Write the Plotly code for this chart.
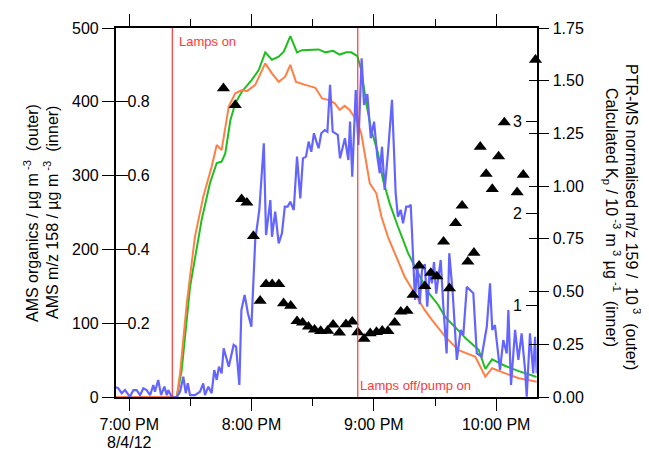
import pandas as pd
import plotly.graph_objects as go

BASE = pd.Timestamp("2012-08-04 19:00:00")

# minutes after 7:00 PM, 4 Aug 2012
organics_min = [-6.7, 23.3, 25.7, 29.8, 35.5, 39.6, 42.9, 45.3, 47.1, 49.6, 52.0, 55.3, 60.2, 63.5,
                66.7, 70.0, 73.3, 75.8, 79.0, 82.3, 84.7, 89.6, 92.9, 96.2, 100.0, 103.2, 106.5,
                108.9, 111.9, 113.8, 116.3, 118.7, 122.0, 124.5, 127.8, 131.8, 136.8, 141.7, 146.6,
                151.5, 155.1, 160.5, 164.9, 171.4, 174.7, 178.0, 184.5, 191.1, 200.0]
organics_val = [0, 0, 36, 149, 240, 290, 317, 319, 330, 375, 398, 414, 430, 443,
                467, 457, 461, 468, 489, 467, 470, 470, 471, 467, 469, 464, 467,
                467, 462, 443, 398, 362, 331, 294, 262, 231, 195, 168, 142,
                125, 108, 93, 80, 64, 38, 51, 42, 35, 27]

mz158_min = [-6.7, 23.3, 24.9, 28.2, 32.2, 36.3, 40.4, 42.9, 45.3, 47.1, 48.8, 52.0, 55.3, 57.8,
             61.8, 66.7, 70.0, 73.3, 76.5, 79.0, 81.8, 86.4, 91.3, 94.6, 98.5, 100.8, 103.2,
             105.7, 108.1, 111.4, 113.8, 115.5, 118.0, 121.2, 123.7, 126.9, 130.2, 135.1, 140.0,
             144.9, 148.5, 155.1, 161.6, 169.8, 174.7, 178.0, 184.5, 191.1, 200.0]
mz158_val = [0, 0, 0.064, 0.254, 0.434, 0.543, 0.624, 0.683, 0.669, 0.724, 0.787, 0.823, 0.832, 0.829,
             0.846, 0.904, 0.877, 0.854, 0.868, 0.900, 0.854, 0.846, 0.838, 0.809, 0.804, 0.796, 0.778,
             0.789, 0.778, 0.751, 0.715, 0.660, 0.579, 0.552, 0.489, 0.434, 0.389, 0.326, 0.281,
             0.236, 0.209, 0.163, 0.127, 0.109, 0.055, 0.078, 0.064, 0.051, 0.041]

ptr159_min = [-7.0, -5.4, -3.7, -2.1, 0.3, 2.0, 3.6, 5.3, 6.9, 8.5, 10.2, 11.8, 12.6, 14.2, 15.6,
              17.2, 18.4, 19.1, 20.8, 23.3, 24.9, 26.5, 27.7, 28.7, 29.8, 32.2, 34.7, 36.3, 37.1,
              38.8, 40.4, 41.7, 42.9, 44.0, 45.3, 46.3, 48.8, 51.2, 52.4, 54.0, 55.0, 56.6, 58.2,
              59.9, 61.8, 63.8, 66.0, 67.1, 69.2, 70.0, 71.6, 73.3, 74.9, 76.3, 77.7, 79.0, 80.7,
              82.3, 83.9, 85.2, 86.7, 88.0, 89.3, 90.6, 91.8, 92.9, 94.2, 95.9, 97.2, 98.5, 99.8,
              102.3, 103.4, 105.8, 107.5, 108.3, 109.4, 111.1, 112.4, 114.0, 115.2, 116.8, 118.5,
              120.1, 121.7, 122.9, 124.0, 125.3, 126.9, 128.9, 130.7, 131.8, 133.2, 134.3, 135.9,
              137.1, 138.1, 139.2, 140.2, 141.3, 142.5, 143.6, 145.0, 146.2, 147.4, 148.5, 149.5,
              150.6, 152.8, 154.1, 155.7, 157.0, 158.7, 160.7, 162.6, 163.9, 165.6, 168.8, 170.5,
              172.9, 175.4, 177.0, 178.1, 179.4, 181.9, 183.5, 185.2, 186.0, 187.3, 189.3, 190.9,
              192.5, 194.2, 195.0, 196.6, 198.2, 199.1, 199.9]
ptr159_val = [0.049, 0.041, 0.018, 0.033, 0.001, 0.033, 0.033, 0.009, 0.041, 0.033, 0.009, 0.057, 0.025, 0.081, 0.009,
              0.049, 0.009, 0.033, 0.0, 0.0, 0.025, 0.096, 0.018, 0.065, 0.009, 0.009, 0.025, 0.065, 0.009,
              0.049, 0.018, 0.128, 0.081, 0.144, 0.112, 0.231, 0.144, 0.247, 0.239, 0.057, 0.413, 0.484, 0.397,
              0.333, 0.745, 0.887, 1.203, 0.768, 0.934, 0.760, 0.879, 0.729, 0.776, 0.903, 0.903, 0.926, 0.887,
              1.140, 0.942, 1.132, 1.140, 1.211, 1.163, 1.251, 1.211, 1.180, 1.251, 1.266, 1.258, 1.480, 1.258,
              1.243, 1.132, 1.227, 1.124, 1.306, 1.045, 1.456, 1.195, 1.606, 1.385, 1.437, 1.227,
              1.306, 1.140, 1.061, 1.187, 0.982, 1.156, 1.409, 0.966, 0.855, 0.887, 0.824, 0.903,
              0.903, 0.911, 0.650, 0.460, 0.634, 0.440, 0.600, 0.630, 0.428, 0.600, 0.539, 0.640,
              0.490, 0.650, 0.428, 0.207, 0.682, 0.492, 0.176, 0.318, 0.294, 0.523, 0.492, 0.207,
              0.191, 0.333, 0.539, 0.318, 0.341, 0.128, 0.270, 0.207, 0.413, 0.057, 0.318, 0.176,
              0.302, 0.128, 0.001, 0.302, 0.112, 0.286, 0.112]

kp_min = [46.2, 52.0, 55.1, 57.7, 60.9, 64.2, 67.1, 70.1, 73.4, 75.7, 79.2, 82.3, 85.0, 87.9,
          90.9, 93.9, 97.3, 100.0, 103.1, 106.3, 109.4, 112.1, 115.2, 118.2, 121.3, 124.1,
          126.9, 130.2, 133.2, 136.3, 139.2, 142.2, 145.0, 147.9, 150.9, 154.2, 157.1, 160.1,
          163.3, 166.1, 169.1, 172.2, 175.1, 178.1, 181.2, 184.0, 190.3, 193.3, 199.3]
kp_val = [3.355, 3.174, 2.150, 2.112, 1.750, 1.045, 1.226, 1.226, 1.226, 1.018, 0.991, 0.824, 0.808, 0.764,
          0.732, 0.717, 0.719, 0.786, 0.699, 0.790, 0.819, 0.703, 0.632, 0.692, 0.706, 0.719,
          0.717, 0.808, 0.927, 0.935, 1.109, 1.427, 1.205, 1.348, 1.310, 1.688, 1.181, 1.890,
          2.080, 1.471, 1.568, 2.720, 2.425, 2.260, 2.615, 2.985, 2.225, 2.415, 3.665]

event_min = [21.1, 112.1]
event_labels = ["Lamps on", "Lamps off/pump on"]

x_range_min = [-6.67, 199.9]
x_tick_min = [0, 60, 120, 180]
x_tick_text = ["7:00 PM", "8:00 PM", "9:00 PM", "10:00 PM"]
x_date_label = "8/4/12"
x_minor_min = [30, 90, 150]


def to_time(mins):
    return BASE + pd.to_timedelta(mins, unit="min")


# page has an 8px body margin; figure is sized to fill the rest of the window
OFF = 8
W, H = 649 - OFF, 450 - OFF


def px(x):
    return (x - OFF) / W


def py(y):
    return 1 - (y - OFF) / H


FONT = "Liberation Sans, Arial, Helvetica, sans-serif"
RED = "#FF3838"

fig = go.Figure()
fig.add_trace(go.Scatter(x=to_time(organics_min), y=organics_val, mode="lines",
                         line=dict(color="#1EBE1E", width=2), yaxis="y", name="AMS organics"))
fig.add_trace(go.Scatter(x=to_time(mz158_min), y=mz158_val, mode="lines",
                         line=dict(color="#FF7F45", width=2), yaxis="y2", name="AMS m/z 158"))
fig.add_trace(go.Scatter(x=to_time(ptr159_min), y=ptr159_val, mode="lines",
                         line=dict(color="#6464FF", width=2.2), yaxis="y3", name="PTR-MS m/z 159"))
fig.add_trace(go.Scatter(x=to_time(kp_min), y=kp_val, mode="markers",
                         marker=dict(symbol="triangle-up", size=11.5, color="black"),
                         yaxis="y4", name="Kp", cliponaxis=False))
fig.add_trace(go.Scatter(x=to_time([0]), y=[0.5], mode="markers", marker=dict(opacity=0),
                         yaxis="y5", hoverinfo="skip", showlegend=False))

XD = [px(115.7), px(536.7)]
YD = [py(397), py(28)]

tickfont = dict(family=FONT, size=16, color="black")

fig.update_layout(
    width=W, height=H,
    margin=dict(l=0, r=0, t=0, b=0, autoexpand=False),
    paper_bgcolor="white", plot_bgcolor="white",
    showlegend=False,
    font=dict(family=FONT, size=16, color="black"),
    xaxis=dict(domain=XD, range=[to_time(x_range_min[0]), to_time(x_range_min[1])],
               tickvals=list(to_time(x_tick_min)), ticktext=x_tick_text,
               ticks="outside", ticklen=12, tickwidth=1.2, tickcolor="black",
               minor=dict(tickvals=list(to_time(x_minor_min)), ticks="outside", ticklen=7,
                          tickwidth=1.2, tickcolor="black", showgrid=False),
               showline=True, linecolor="black", linewidth=1.5, mirror="ticks",
               showgrid=False, zeroline=False, tickfont=tickfont, anchor="y",
               automargin=False, ticklabeloverflow="allow"),
    yaxis=dict(domain=YD, range=[0, 500], tickvals=[0, 100, 200, 300, 400, 500],
               ticks="outside", ticklen=12, tickwidth=1.2, tickcolor="black",
               showline=True, linecolor="black", linewidth=1.5,
               showgrid=False, zeroline=False, tickfont=tickfont, anchor="x",
               automargin=False, ticklabeloverflow="allow"),
    yaxis2=dict(range=[0, 1.0], tickvals=[0.2, 0.4, 0.6, 0.8], ticktext=["0.2", "0.4", "0.6", "0.8"],
                overlaying="y", side="left", anchor="x",
                ticks="inside", ticklen=12, tickwidth=1.2, tickcolor="black",
                ticklabelposition="inside", showline=False, showgrid=False, zeroline=False,
                tickfont=tickfont, automargin=False, ticklabeloverflow="allow"),
    yaxis3=dict(range=[0, 1.75], tickvals=[0, 0.25, 0.5, 0.75, 1.0, 1.25, 1.5, 1.75],
                tickformat=".2f", overlaying="y", side="right", anchor="x",
                ticks="outside", ticklen=11, tickwidth=1.2, tickcolor="black",
                showline=True, linecolor="black", linewidth=1.5,
                showgrid=False, zeroline=False, tickfont=tickfont,
                automargin=False, ticklabeloverflow="allow"),
    yaxis4=dict(range=[0, 4.011], tickvals=[1, 2, 3], ticktext=["1", "2", "3"],
                overlaying="y", side="right", anchor="x",
                ticks="inside", ticklen=11, tickwidth=1.2, tickcolor="black",
                ticklabelposition="inside", ticklabelstandoff=4,
                showline=False, showgrid=False, zeroline=False,
                tickfont=tickfont, automargin=False, ticklabeloverflow="allow"),
    yaxis5=dict(range=[0, 1.75], tickvals=[0.25, 0.5, 0.75, 1.0, 1.25, 1.5],
                overlaying="y", side="right", anchor="x", showticklabels=False,
                ticks="inside", ticklen=8, tickwidth=1.2, tickcolor="black",
                showline=False, showgrid=False, zeroline=False, automargin=False),
)

for m in event_min:
    fig.add_shape(type="line", xref="x", yref="paper", x0=to_time(m), x1=to_time(m),
                  y0=YD[0], y1=YD[1], line=dict(color=RED, width=1.2))

fig.add_annotation(x=to_time(event_min[0]), y=py(42), xref="x", yref="paper",
                   text=event_labels[0], showarrow=False, xanchor="left", yanchor="middle", xshift=5,
                   font=dict(family=FONT, size=13, color=RED))
fig.add_annotation(x=to_time(event_min[1]), y=py(385), xref="x", yref="paper",
                   text=event_labels[1], showarrow=False, xanchor="left", yanchor="middle", xshift=0,
                   font=dict(family=FONT, size=13, color=RED))

# date line under the first time tick label
fig.add_annotation(x=to_time(x_tick_min[0]), y=py(442), xref="x", yref="paper",
                   text=x_date_label, showarrow=False, xanchor="center", yanchor="middle",
                   font=tickfont)

title_font = dict(family=FONT, size=16, color="black")
fig.add_annotation(x=px(31), y=py(213), xref="paper", yref="paper", textangle=-90,
                   xanchor="center", yanchor="middle",
                   text="AMS organics / µg m<sup> -3</sup>  (outer)", showarrow=False,
                   font=title_font)
fig.add_annotation(x=px(51), y=py(213), xref="paper", yref="paper", textangle=-90,
                   xanchor="center", yanchor="middle",
                   text="AMS m/z 158 / µg m<sup> -3</sup>  (inner)", showarrow=False,
                   font=title_font)
fig.add_annotation(x=px(633), y=py(217), xref="paper", yref="paper", textangle=90,
                   xanchor="center", yanchor="middle",
                   text="PTR-MS normalised m/z 159 /  10<sup> 3</sup>  (outer)", showarrow=False,
                   font=title_font)
fig.add_annotation(x=px(612), y=py(217), xref="paper", yref="paper", textangle=90,
                   xanchor="center", yanchor="middle",
                   text="Calculated K<sub>p</sub> / 10<sup> -3</sup> m<sup> 3</sup> µg<sup> -1</sup>  (inner)",
                   showarrow=False, font=title_font)

fig.write_html("out.html")
